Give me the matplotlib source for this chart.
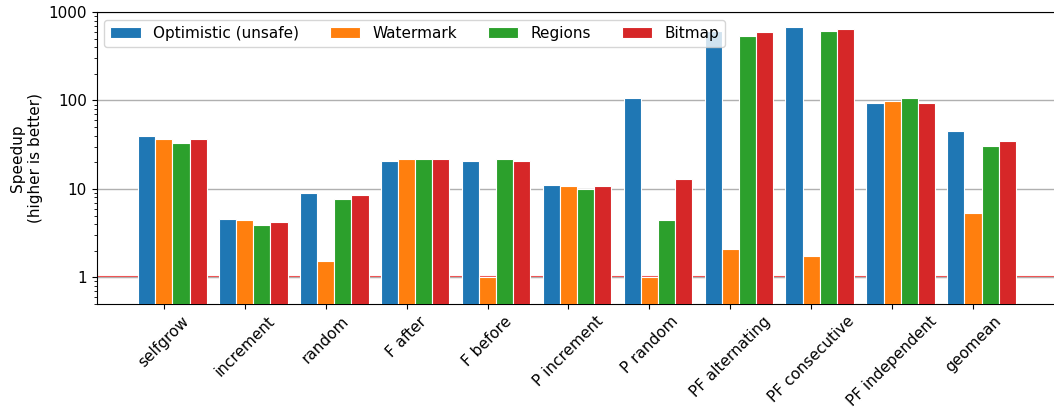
import numpy as np
import matplotlib
matplotlib.use("Agg")
import matplotlib.pyplot as plt

benchmarks = ["selfgrow", "increment", "random", "F after", "F before",
              "P increment", "P random", "PF alternating", "PF consecutive",
              "PF independent", "geomean"]
series_names = ["Optimistic (unsafe)", "Watermark", "Regions", "Bitmap"]
optimistic = [39.2, 4.55, 9.1, 20.8, 20.8, 11.2, 107.6, 611, 678, 92.7, 45.0]
watermark = [36.6, 4.4, 1.55, 21.7, 1.01, 10.8, 1.01, 2.11, 1.76, 97.7, 5.4]
regions = [33.0, 3.95, 7.65, 21.7, 21.7, 10.0, 4.4, 532, 611, 107.6, 30.8]
bitmap = [36.6, 4.25, 8.5, 21.7, 20.8, 10.8, 12.9, 590, 650, 92.7, 35.0]
colors = ["#1f77b4", "#ff7f0e", "#2ca02c", "#d62728"]

plt.rcParams["font.size"] = 11

fig = plt.figure(figsize=(10.54, 4.11), dpi=100)
ax = fig.add_axes([0.0917, 0.2603, 1.0 - 0.0917, 0.9708 - 0.2603])

x = np.arange(len(benchmarks))
width = 0.212
for k, (name, vals, c) in enumerate(zip(series_names,
                                        [optimistic, watermark, regions, bitmap],
                                        colors)):
    ax.bar(x + (k - 1) * width, vals, width, label=name, color=c,
           edgecolor="white", linewidth=0.8, zorder=3)

ax.set_yscale("log")
ax.set_ylim(0.5, 1000)
ax.set_xlim(-0.83, 11.0)
ax.set_yticks([1, 10, 100, 1000])
ax.set_yticklabels(["1", "10", "100", "1000"])
ax.yaxis.grid(True, which="major", color="#b0b0b0", linewidth=1.0, zorder=0)
# baseline: no speedup
ax.axhline(1, color="red", linewidth=1.5, alpha=0.75, zorder=1)

ax.set_xticks(x)
ax.set_xticklabels(benchmarks, rotation=45)
ax.set_ylabel("Speedup\n(higher is better)")
ax.spines["right"].set_visible(False)

ax.legend(ncol=4, loc="upper left", bbox_to_anchor=(0.0, 1.0))

fig.savefig("out.png", dpi=100)
